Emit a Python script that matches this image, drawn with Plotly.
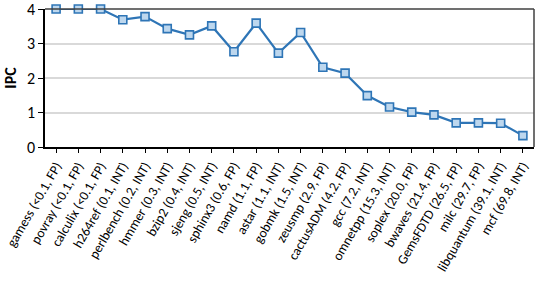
import plotly.graph_objects as go

benchmarks = ["gamess (<0.1, FP)", "povray (<0.1, FP)", "calculix (<0.1, FP)", "h264ref (0.1, INT)",
              "perlbench (0.2, INT)", "hmmer (0.3, INT)", "bzip2 (0.4, INT)", "sjeng (0.5, INT)",
              "sphinx3 (0.6, FP)", "namd (1.1, FP)", "astar (1.1, INT)", "gobmk (1.5, INT)",
              "zeusmp (2.9, FP)", "cactusADM (4.2, FP)", "gcc (7.2, INT)", "omnetpp (15.3, INT)",
              "soplex (20.0, FP)", "bwaves (21.4, FP)", "GemsFDTD (26.5, FP)", "milc (29.7, FP)",
              "libquantum (39.1, INT)", "mcf (69.8, INT)"]
ipc = [4.0, 4.0, 4.0, 3.69, 3.78, 3.43, 3.25, 3.51, 2.76, 3.59, 2.72, 3.32,
       2.31, 2.14, 1.49, 1.16, 1.01, 0.93, 0.70, 0.70, 0.69, 0.33]
y_ticks = [0, 1, 2, 3, 4]

font = "Carlito, Liberation Sans, Arial, sans-serif"

fig = go.Figure()
fig.add_trace(go.Scatter(
    x=benchmarks, y=ipc, mode="lines+markers",
    line=dict(color="#2E75B6", width=2.2),
    marker=dict(symbol="square", size=8, color="#BDD7EE",
                line=dict(color="#2E75B6", width=1.6)),
    cliponaxis=False, showlegend=False,
))

fig.update_layout(
    width=538, height=288,
    margin=dict(l=45, r=4, t=9, b=141),
    paper_bgcolor="white", plot_bgcolor="white",
    font=dict(family=font, color="black"),
    xaxis=dict(
        type="category", tickangle=-60, tickfont=dict(size=13.5), automargin=False,
        showline=True, linecolor="black", linewidth=1.5,
        ticks="outside", ticklen=4, tickcolor="black",
        mirror=False, showgrid=False, range=[-0.5, len(benchmarks) - 0.5],
    ),
    yaxis=dict(
        range=[0, 4], tickvals=y_ticks, tickfont=dict(size=16), automargin=False,
        ticklabeloverflow="allow",
        showline=True, linecolor="black", linewidth=1.5,
        ticks="outside", ticklen=5, tickcolor="black",
        showgrid=True, gridcolor="#D9D9D9", gridwidth=1.5,
        zeroline=False,
        title=dict(text="<b>IPC</b>", font=dict(size=16), standoff=6),
    ),
    shapes=[
        dict(type="line", xref="paper", yref="paper", x0=0, x1=1, y0=1, y1=1,
             line=dict(color="#404040", width=1.5)),
        dict(type="line", xref="paper", yref="paper", x0=1, x1=1, y0=0, y1=1,
             line=dict(color="#404040", width=1.5)),
    ],
)

fig.write_html("out.html", config={"displayModeBar": False},
               post_script="document.body.style.margin='0';")
